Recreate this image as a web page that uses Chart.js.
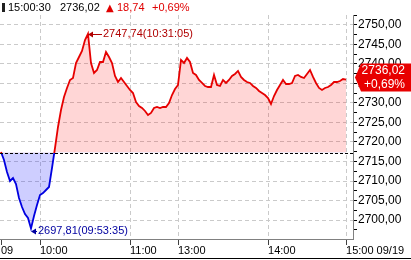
<!DOCTYPE html>
<html><head><meta charset="utf-8">
<script src="https://cdn.jsdelivr.net/npm/chart.js@4.4.1/dist/chart.umd.min.js"></script>
<style>html,body{margin:0;padding:0;background:#fff;overflow:hidden}canvas{display:block}</style>
</head><body>
<canvas id="c" width="411" height="260"></canvas>
<script>
// ---- data ----
const values = [
2717.44, 2715.38, 2712.31, 2710.00, 2710.77, 2709.23, 2705.64, 2703.33, 2701.54, 2700.51,
2697.81, 2701.03, 2703.85, 2706.41, 2706.92, 2707.69, 2708.46, 2713.33, 2718.46, 2723.85,
2728.21, 2731.54, 2733.85, 2735.90, 2736.41, 2740.26, 2741.79, 2743.33, 2746.15, 2747.74,
2740.26, 2737.69, 2738.46, 2740.51, 2740.51, 2743.08, 2741.79, 2740.26, 2736.92, 2735.38,
2736.41, 2735.38, 2734.36, 2733.33, 2732.56, 2730.26, 2729.23, 2728.72, 2727.95, 2726.92,
2727.44, 2728.72, 2728.97, 2728.72, 2728.97, 2728.97, 2730.00, 2732.05, 2733.59, 2734.62,
2741.03, 2740.26, 2741.54, 2740.51, 2737.69, 2737.18, 2735.90, 2735.13, 2734.36, 2734.10,
2734.10, 2737.18, 2734.62, 2734.36, 2735.90, 2735.13, 2735.90, 2736.92, 2737.44, 2738.21,
2736.67, 2735.90, 2735.38, 2735.13, 2734.36, 2733.85, 2733.08, 2732.56, 2732.05, 2731.28,
2729.74, 2731.79, 2733.33, 2734.62, 2735.90, 2734.87, 2734.87, 2735.13, 2736.92, 2737.18,
2736.67, 2736.41, 2737.44, 2738.46, 2736.67, 2735.13, 2733.85, 2733.33, 2733.85, 2734.10,
2734.62, 2735.38, 2735.38, 2735.64, 2736.15, 2736.02
];
const tickPos = [0, 13, 43, 59, 89, 115];
const tickLabels = ['09', '10:00', '11:00', '13:00', '14:00', '15:00 09/19'];
const yTickValues = [2697.5, 2700, 2702.5, 2705, 2707.5, 2710, 2712.5, 2715, 2717.5, 2720,
  2722.5, 2725, 2727.5, 2730, 2732.5, 2735, 2737.5, 2740, 2742.5, 2745, 2747.5, 2750, 2752.5];
const prevClose = 2717.28;
const lastTime = '15:00:30';
const lastValue = 2736.02;
const change = 18.74;
const changePct = 0.69;
const highTime = '10:31:05';
const lowTime = '09:53:35';

const RED = '#e60000', BLUE = '#0000e0';
const fmt = v => v.toFixed(2).replace('.', ',');
const FONT = '"Liberation Sans", Arial, sans-serif';
const isMajor = v => Math.abs(v % 5) < 1e-6;

const overlay = {
  id: 'overlay',
  afterDatasetsDraw(chart) {
    const {ctx, chartArea: a, scales: {x, y}} = chart;
    ctx.save();
    // previous close dashed line
    const ry = Math.round(y.getPixelForValue(prevClose)) + 0.5;
    ctx.strokeStyle = '#000'; ctx.lineWidth = 1; ctx.setLineDash([3, 2]);
    ctx.beginPath(); ctx.moveTo(a.left, ry); ctx.lineTo(a.right, ry); ctx.stroke();
    ctx.setLineDash([]);

    // high / low annotations
    let hi = 0, lo = 0;
    values.forEach((v, i) => { if (v > values[hi]) hi = i; if (v < values[lo]) lo = i; });
    const annot = (i, label, color, gap, dy) => {
      const px = x.getPixelForValue(i), py = y.getPixelForValue(values[i]) + dy;
      ctx.strokeStyle = color; ctx.fillStyle = color; ctx.lineWidth = 1;
      ctx.beginPath(); ctx.moveTo(px + 3, Math.round(py) + 0.5); ctx.lineTo(px + gap - 1, Math.round(py) + 0.5); ctx.stroke();
      ctx.beginPath(); ctx.moveTo(px, Math.round(py) + 0.5); ctx.lineTo(px + 5, Math.round(py) - 2.5); ctx.lineTo(px + 5, Math.round(py) + 3.5); ctx.closePath(); ctx.fill();
      ctx.font = '11px ' + FONT; ctx.textBaseline = 'middle'; ctx.textAlign = 'left';
      ctx.fillText(label, px + gap, py);
    };
    annot(hi, fmt(values[hi]) + '(' + highTime + ')', '#b00000', 15, 0.5);
    annot(lo, fmt(values[lo]) + '(' + lowTime + ')', '#0000a0', 7, 2);

    // last value tag on the right axis
    const ly = y.getPixelForValue(lastValue);
    const top = ly - 16, bot = ly + 12, mid = (top + bot) / 2;
    const L = a.right + 2;
    ctx.fillStyle = '#e80000';
    ctx.beginPath(); ctx.moveTo(L, mid); ctx.lineTo(L + 6, top); ctx.lineTo(chart.width, top);
    ctx.lineTo(chart.width, bot); ctx.lineTo(L + 6, bot); ctx.closePath(); ctx.fill();
    ctx.fillStyle = '#fff'; ctx.font = '12px ' + FONT; ctx.textAlign = 'right'; ctx.textBaseline = 'middle';
    ctx.fillText(fmt(lastValue), chart.width - 6, top + 7);
    ctx.fillText('+' + fmt(changePct) + '%', chart.width - 6, top + 21);

    // header
    ctx.textAlign = 'left'; ctx.textBaseline = 'middle'; ctx.font = '11px ' + FONT;
    ctx.fillStyle = '#202020'; ctx.fillRect(2, 3, 3, 9);
    ctx.fillStyle = '#000';
    ctx.fillText(lastTime, 8, 8);
    ctx.fillText(fmt(lastValue), 60, 8);
    ctx.fillStyle = '#e00000';
    ctx.font = '10px "DejaVu Sans"';
    ctx.fillText('\u25B2', 106, 8);
    ctx.font = '11px ' + FONT;
    ctx.fillText(fmt(change), 117, 8);
    ctx.fillText('+' + fmt(changePct) + '%', 152, 8);

    // bottom frame line
    ctx.fillStyle = '#000'; ctx.fillRect(0, 258, chart.width, 1);
    ctx.restore();
  }
};

const pts = values.map((v, i) => ({x: i, y: v}));

new Chart(document.getElementById('c'), {
  type: 'line',
  data: {datasets: [{
    data: pts,
    borderWidth: 1.8,
    pointRadius: 0,
    tension: 0,
    borderColor: c => {
      const ch = c.chart, a = ch.chartArea;
      if (!a) return RED;
      const ry = ch.scales.y.getPixelForValue(prevClose);
      const s = Math.min(1, Math.max(0, (ry - a.top) / (a.bottom - a.top)));
      const g = ch.ctx.createLinearGradient(0, a.top, 0, a.bottom);
      g.addColorStop(0, RED); g.addColorStop(s, RED); g.addColorStop(s, BLUE); g.addColorStop(1, BLUE);
      return g;
    },
    fill: {value: prevClose, above: 'rgba(255,0,0,0.16)', below: 'rgba(30,30,255,0.22)'}
  }]},
  options: {
    responsive: false, animation: false, devicePixelRatio: 1,
    layout: {padding: {top: 15, left: 0, right: 0, bottom: 0}},
    plugins: {legend: {display: false}, tooltip: {enabled: false}},
    scales: {
      x: {
        type: 'linear', min: -1 / 3, max: 117.33,
        afterBuildTicks: s => { s.ticks = tickPos.map(v => ({value: v})); },
        afterFit: s => { s.height = 21; s.paddingLeft = 0; s.paddingRight = 0; },
        border: {color: '#808080', dash: [4, 3]},
        grid: {color: c => c.index === 0 ? 'rgba(0,0,0,0)' : '#cacaca',
               tickColor: '#404040', tickLength: 6, tickBorderDash: []},
        ticks: {callback: (v, i) => tickLabels[i], align: 'start', autoSkip: false, maxRotation: 0,
                padding: -1, color: '#000', font: {family: FONT, size: 11}}
      },
      y: {
        position: 'right', min: 2695.13, max: 2752.56,
        afterBuildTicks: s => { s.ticks = yTickValues.map(v => ({value: v})); },
        afterFit: s => { s.width = 58; },
        border: {color: '#808080', dash: [4, 3]},
        grid: {color: c => (c.tick && isMajor(c.tick.value)) ? '#cacaca' : 'rgba(0,0,0,0)',
               tickColor: '#000', tickLength: 4, tickBorderDash: []},
        ticks: {callback: v => isMajor(v) ? fmt(v) : '', autoSkip: false, padding: 1, color: '#000',
                font: {family: FONT, size: 12}}
      }
    }
  },
  plugins: [overlay]
});
</script>
</body></html>
